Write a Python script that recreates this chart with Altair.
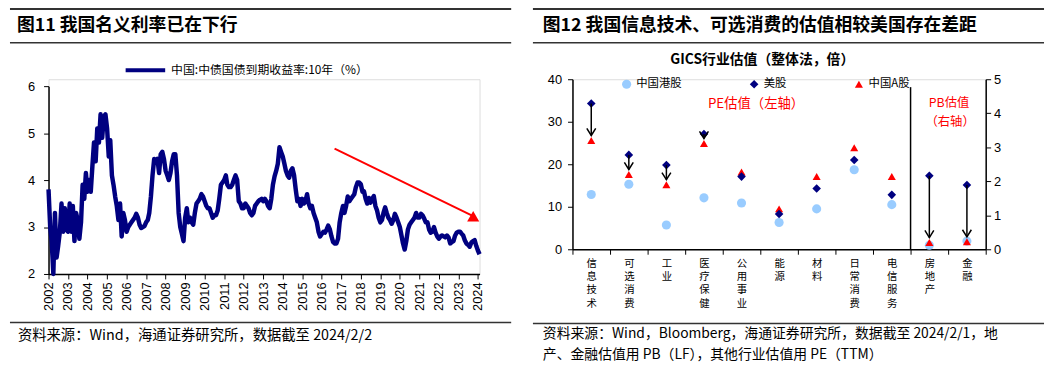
import altair as alt
import pandas as pd

CJK = "Noto Sans CJK SC"
NUM = "Liberation Sans"

# ---------------- left panel data ----------------
year_ticks = list(range(2002, 2025))
series_name = "中国:中债国债到期收益率:10年（%）"
# monthly 10Y CGB yield, Jan 2002 .. Feb 2024
yield_10y = [
    3.80, 3.00, 2.70, 2.00, 3.30, 2.35, 2.60, 2.90, 3.50, 2.90, 3.40, 2.95,  # 2002
    2.90, 3.50, 2.90, 3.45, 2.70, 3.30, 3.15, 2.75, 3.10, 3.90, 3.60, 4.15,  # 2003
    3.75, 4.00, 3.75, 4.30, 4.80, 4.40, 5.10, 4.80, 5.40, 4.90, 5.35, 5.40,  # 2004
    5.10, 4.50, 4.85, 4.10, 3.90, 3.65, 3.45, 3.15, 3.50, 2.80, 3.30, 3.15,  # 2005
    2.90, 3.00, 3.05, 3.10, 3.15, 3.20, 3.28, 3.20, 3.05, 2.98, 3.00, 3.02,  # 2006
    3.10, 3.15, 3.30, 3.65, 4.10, 4.45, 4.40, 4.45, 4.15, 4.55, 4.60, 4.45,  # 2007
    4.20, 4.10, 4.00, 4.15, 4.40, 4.55, 4.55, 4.10, 3.30, 3.00, 2.85, 2.70,  # 2008
    3.20, 3.40, 3.10, 3.20, 3.10, 3.05, 3.30, 3.50, 3.55, 3.60, 3.70, 3.65,  # 2009
    3.55, 3.45, 3.40, 3.40, 3.30, 3.20, 3.25, 3.25, 3.35, 3.60, 3.90, 3.95,  # 2010
    4.00, 4.10, 3.90, 3.85, 3.85, 3.90, 4.00, 4.10, 4.00, 3.55, 3.50, 3.40,  # 2011
    3.40, 3.50, 3.45, 3.40, 3.30, 3.25, 3.30, 3.45, 3.50, 3.55, 3.58, 3.60,  # 2012
    3.55, 3.60, 3.55, 3.45, 3.40, 3.60, 3.90, 4.08, 4.20, 4.35, 4.70, 4.60,  # 2013
    4.50, 4.35, 4.20, 4.10, 4.05, 4.20, 4.25, 4.10, 3.80, 3.55, 3.60, 3.45,  # 2014
    3.60, 3.50, 3.55, 3.70, 3.50, 3.40, 3.45, 3.30, 3.20, 3.10, 2.90, 2.80,  # 2015
    2.85, 2.90, 2.88, 2.95, 3.03, 2.95, 2.80, 2.68, 2.65, 2.65, 2.75, 3.10,  # 2016
    3.30, 3.45, 3.30, 3.45, 3.65, 3.55, 3.60, 3.65, 3.70, 3.85, 3.95, 3.95,  # 2017
    3.91, 3.75, 3.76, 3.60, 3.50, 3.62, 3.52, 3.60, 3.66, 3.45, 3.35, 3.20,  # 2018
    3.10, 3.15, 3.30, 3.42, 3.30, 3.20, 3.15, 3.07, 3.15, 3.28, 3.20, 3.10,  # 2019
    3.00, 2.82, 2.65, 2.52, 2.70, 2.95, 3.05, 3.10, 3.15, 3.20, 3.30, 3.20,  # 2020
    3.20, 3.28, 3.25, 3.18, 3.10, 3.10, 2.95, 2.88, 2.90, 3.00, 2.88, 2.80,  # 2021
    2.75, 2.80, 2.82, 2.80, 2.78, 2.82, 2.78, 2.65, 2.68, 2.70, 2.82, 2.88,  # 2022
    2.90, 2.90, 2.86, 2.82, 2.72, 2.65, 2.62, 2.58, 2.67, 2.70, 2.72, 2.60,  # 2023
    2.50, 2.42,                                                              # 2024
]
trend_dates = ["2016/08/28", "2023/10/05"]
trend_values = [4.67, 3.23]

# ---------------- right panel data ----------------
industries = ["信息技术", "可选消费", "工业", "医疗保健", "公用事业", "能源",
              "材料", "日常消费", "电信服务", "房地产", "金融"]
metric = ["PE"] * 9 + ["PB"] * 2
hk_vals = [12.9, 15.3, 5.7, 12.1, 10.9, 6.3, 9.5, 18.7, 10.5, 0.12, 0.24]
us_vals = [34.3, 22.2, 19.8, 27.1, 17.1, 8.3, 14.3, 21.0, 12.8, 2.16, 1.89]
a_vals = [25.6, 17.6, 15.2, 24.9, 18.2, 9.5, 17.1, 23.9, 17.1, 0.20, 0.22]
series_order = ["中国港股", "美股", "中国A股"]
draw_order = ["中国港股", "中国A股", "美股"]
series_colors = ["#99CCFF", "#000080", "#FF0000"]
series_shapes = ["circle", "diamond", "triangle-up"]
series_sizes = [85, 66, 125]
pe_ticks = [0, 10, 20, 30, 40]
pb_ticks = [0, 1, 2, 3, 4, 5]

one = pd.DataFrame({"k": [0]})


def hrule(y, x1, x2, w=1.5):
    return alt.Chart(one).mark_rule(color="#333333", strokeWidth=w).encode(
        x=alt.value(x1), x2=alt.value(x2), y=alt.value(y))


def label(text, x, y, size=14, bold=False, color="#000000", align="left"):
    return alt.Chart(pd.DataFrame({"t": [text]})).mark_text(
        font=CJK, fontSize=size, fontWeight="bold" if bold else "normal",
        color=color, align=align, baseline="middle").encode(
        x=alt.value(x), y=alt.value(y), text="t:N")


# ---------------- left panel ----------------
LH = 197   # plot height; the y-range starts 7px below the top so both panels share an origin
dates = pd.date_range("2002-01-01", periods=len(yield_10y), freq="MS").strftime("%Y/%m/%d")
df_y = pd.DataFrame({"date": dates, "value": yield_10y, "series": series_name})
df_t = pd.DataFrame({"date": trend_dates, "value": trend_values})

x_left = alt.X(
    "date:T",
    scale=alt.Scale(domain=[alt.DateTime(year=2002, month=1, date=1),
                            alt.DateTime(year=2024, month=2, date=1)]),
    axis=alt.Axis(values=[alt.DateTime(year=y, month=1, date=1) for y in year_ticks],
                  format="%Y", labelAngle=-90, title=None, grid=False, tickSize=5,
                  labelPadding=3, labelFont=NUM, labelFontSize=13, labelColor="#000",
                  domainColor="#000", tickColor="#000", domainWidth=1.5))
y_left = alt.Y(
    "value:Q", scale=alt.Scale(domain=[2, 6], range=[LH, 7]),
    axis=alt.Axis(values=[2, 3, 4, 5, 6], title=None, grid=False, tickSize=5,
                  labelPadding=9, labelFont=NUM, labelFontSize=13, labelColor="#000",
                  domainColor="#000", tickColor="#000", domainWidth=1.5))

line = alt.Chart(df_y).mark_line(strokeWidth=4.5, strokeJoin="round").encode(
    x=x_left, y=y_left,
    color=alt.Color("series:N", scale=alt.Scale(range=["#000080"]),
                    legend=alt.Legend(orient="none", legendX=76, legendY=-31, title=None,
                                      symbolType="stroke", symbolSize=1600,
                                      symbolStrokeWidth=4, labelFont=CJK, labelLimit=400,
                                      labelFontSize=12, labelColor="#000")))
trend = alt.Chart(df_t).mark_line(color="#FF0000", strokeWidth=2).encode(x=x_left, y=y_left)
trend_head = alt.Chart(df_t).transform_filter(
    f"datum.value == {trend_values[-1]}").mark_point(
    shape="triangle-up", filled=True, size=150, color="#FF0000", opacity=1).encode(
    x=x_left, y=y_left)

left = alt.layer(
    line, trend, trend_head,
    hrule(-71, -39, 468, 2), hrule(-37, -39, 468), hrule(246, -39, 468),
    label("图11 我国名义利率已在下行", -32, -54, size=18, bold=True),
    label("资料来源：Wind，海通证券研究所，数据截至 2024/2/2", -31, 260, size=14.5),
).properties(width=436, height=LH)

# ---------------- right panel ----------------
df_v = pd.DataFrame({"行业": industries, "类型": metric, "中国港股": hk_vals,
                     "美股": us_vals, "中国A股": a_vals})

x_right = alt.X(
    "行业:N", sort=industries,
    scale=alt.Scale(type="band", paddingInner=0, paddingOuter=0),
    axis=alt.Axis(title=None, labelAngle=0, labelExpr="split(datum.label, '')",
                  tickBand="extent", labelFont=CJK, labelFontSize=10.5,
                  labelLineHeight=13.5, labelBaseline="top", tickSize=5, labelPadding=4,
                  labelColor="#000", domainColor="#000", tickColor="#000", domainWidth=1.5))


def y_pe(field):
    return alt.Y(f"{field}:Q", scale=alt.Scale(domain=[0, 40]),
                 axis=alt.Axis(orient="left", values=pe_ticks, title=None, grid=False,
                               tickSize=5, labelPadding=6, labelFont=NUM, labelFontSize=13,
                               labelColor="#000", domainColor="#000", tickColor="#000",
                               domainWidth=1.5))


def y_pb(field):
    return alt.Y(f"{field}:Q", scale=alt.Scale(domain=[0, 5]),
                 axis=alt.Axis(orient="right", values=pb_ticks, title=None, grid=False,
                               tickSize=5, labelPadding=3, labelFont=NUM, labelFontSize=13,
                               labelColor="#000", domainColor="#000", tickColor="#000",
                               domainWidth=1.5))


def panel_layer(kind, yenc):
    base = alt.Chart(df_v).transform_filter(f"datum['类型'] == '{kind}'")
    pts = base.transform_fold(draw_order, as_=["系列", "估值"]).mark_point(
        filled=True, opacity=1).encode(
        x=x_right, y=yenc("估值"),
        color=alt.Color("系列:N", scale=alt.Scale(domain=series_order, range=series_colors),
                        legend=alt.Legend(orient="none", legendX=49, legendY=-1,
                                          direction="horizontal", title=None,
                                          columnPadding=67, symbolSize=75,
                                          labelFont=CJK, labelFontSize=11.5,
                                          labelColor="#000")),
        shape=alt.Shape("系列:N", scale=alt.Scale(domain=series_order, range=series_shapes)),
        size=alt.Size("系列:N", scale=alt.Scale(domain=series_order, range=series_sizes),
                      legend=None))
    arrows = base.transform_filter("datum['中国A股'] < datum['美股']")
    shaft = arrows.mark_rule(color="#000000", strokeWidth=1.5, y2Offset=-5).encode(
        x=x_right, y=yenc("美股"), y2=alt.Y2("中国A股:Q"))
    head = arrows.mark_point(shape="M-1,-1.6L0,0L1,-1.6", filled=False, color="#000000",
                             strokeWidth=1.5, size=81, yOffset=-5, opacity=1).encode(
        x=x_right, y=yenc("中国A股"))
    return alt.layer(pts, shaft, head)


divider = alt.Chart(one).mark_rule(color="#000000", strokeWidth=1.5).encode(
    x=alt.value(342), y=alt.value(8), y2=alt.value(172))

right = alt.layer(
    panel_layer("PE", y_pe), panel_layer("PB", y_pb), divider,
    hrule(-71, -40, 477, 2), hrule(-37, -40, 477), hrule(247, -40, 477),
    label("图12 我国信息技术、可选消费的估值相较美国存在差距", -30, -54, size=18, bold=True),
    label("GICS行业估值（整体法，倍）", 192, -19, size=14, bold=True, align="center"),
    label("PE估值（左轴）", 137, 25, size=13.5, color="#FF0000"),
    label("PB估值", 381, 24, size=12.5, color="#FF0000", align="center"),
    label("（右轴）", 382, 43, size=12.5, color="#FF0000", align="center"),
    label("资料来源：Wind，Bloomberg，海通证券研究所，数据截至 2024/2/1，地", -30, 258, size=14),
    label("产、金融估值用 PB（LF），其他行业估值用 PE（TTM）", -30, 279, size=14),
).resolve_scale(y="independent").properties(width=418, height=172)

chart = alt.hconcat(left, right, spacing=18).resolve_scale(
    color="independent", shape="independent", size="independent"
).resolve_legend(color="independent", shape="independent", size="independent").properties(
    padding={"left": 0, "top": -3, "right": 0, "bottom": 0}
).configure_view(stroke=None).configure(background="white")

chart.save("out.html", embed_options={"renderer": "svg", "actions": False})
